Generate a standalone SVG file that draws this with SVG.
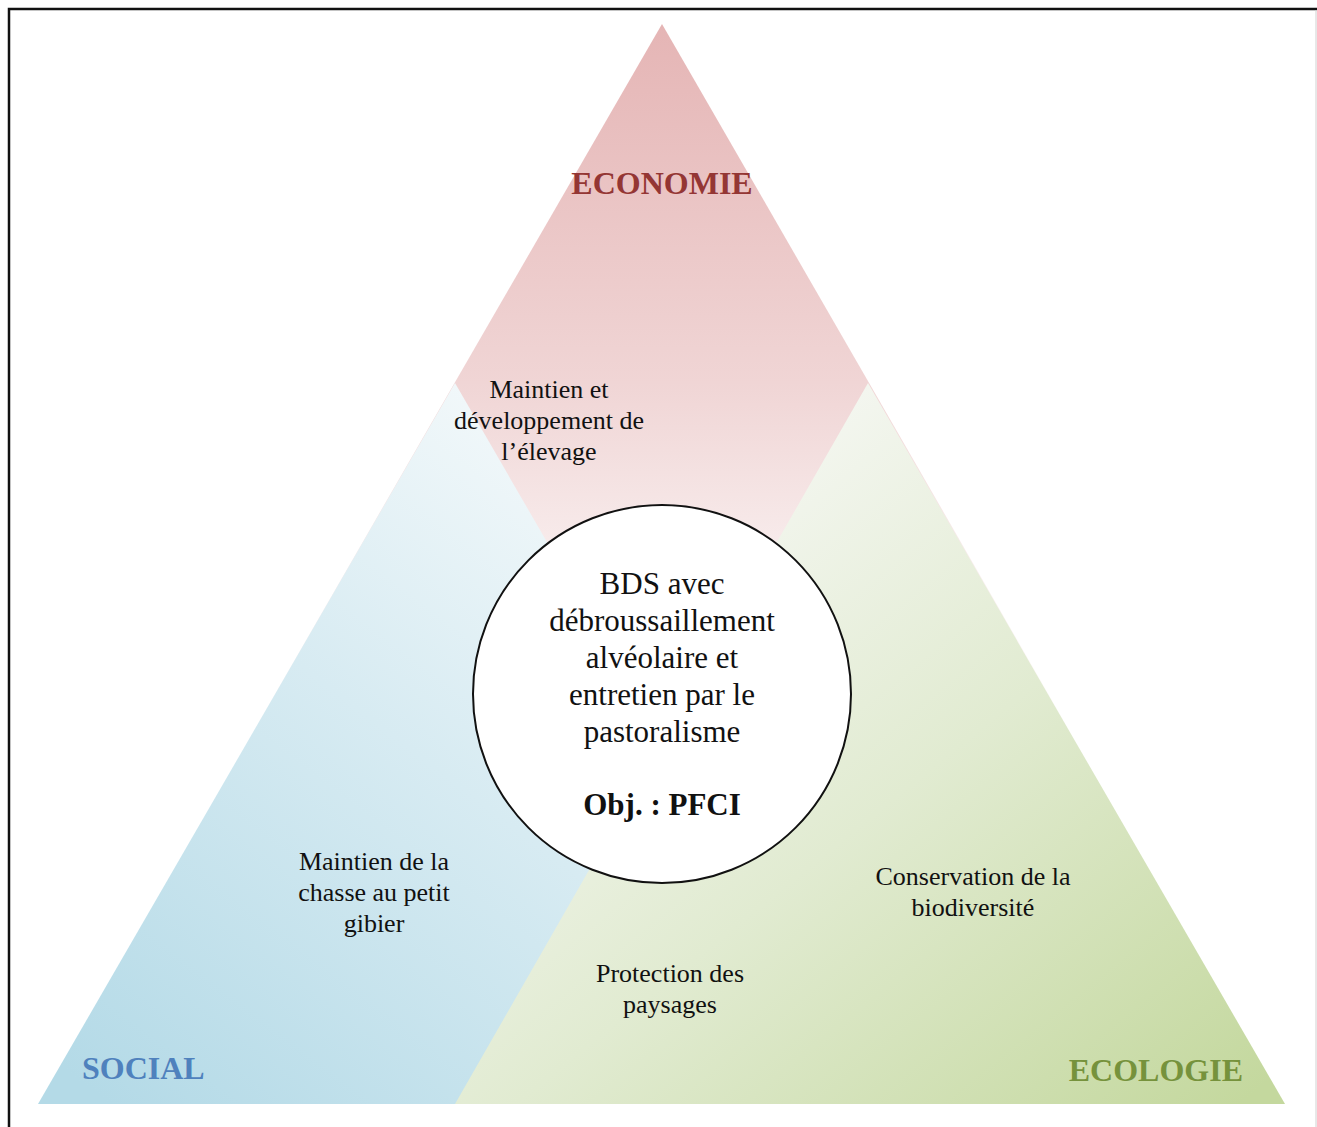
<svg xmlns="http://www.w3.org/2000/svg" width="1317" height="1127" viewBox="0 0 1317 1127">
  <defs>
    <linearGradient id="gRed" gradientUnits="userSpaceOnUse" x1="0" y1="24" x2="0" y2="741">
      <stop offset="0" stop-color="#e5b5b5"/>
      <stop offset="0.5" stop-color="#f0d5d5"/>
      <stop offset="0.75" stop-color="#f8eded"/>
      <stop offset="1" stop-color="#ffffff"/>
    </linearGradient>
    <linearGradient id="gBlue" gradientUnits="userSpaceOnUse" x1="620" y1="430" x2="110" y2="1104">
      <stop offset="0" stop-color="#f6fafb"/>
      <stop offset="0.45" stop-color="#d7ebf2"/>
      <stop offset="1" stop-color="#b4dae7"/>
    </linearGradient>
    <linearGradient id="gGreen" gradientUnits="userSpaceOnUse" x1="720" y1="460" x2="1240" y2="1104">
      <stop offset="0" stop-color="#f5f7f2"/>
      <stop offset="0.45" stop-color="#e1ebd1"/>
      <stop offset="1" stop-color="#c4d89e"/>
    </linearGradient>
    <style>
      .lbl { font-family: "Liberation Serif", "Times New Roman", serif; font-size: 26px; fill: #111111; text-anchor: middle; }
      .ctr { font-family: "Liberation Serif", "Times New Roman", serif; font-size: 31px; fill: #111111; text-anchor: middle; }
      .head { font-family: "Liberation Serif", "Times New Roman", serif; font-size: 32px; font-weight: bold; }
    </style>
  </defs>
  <rect x="0" y="0" width="1317" height="1127" fill="#ffffff"/>
  <path d="M9,1127 V9 H1317" fill="none" stroke="#111111" stroke-width="2.5"/>
  <line x1="1316" y1="10" x2="1316" y2="1127" stroke="#d0d0d0" stroke-width="1"/>

  <g id="economie">
    <polygon points="662,24 38,1104 1285,1104" fill="url(#gRed)"/>
  </g>
  <g id="social">
    <polygon points="455,383 38,1104 872,1104" fill="url(#gBlue)"/>
  </g>
  <g id="ecologie">
    <polygon points="868,383 455,1104 1285,1104" fill="url(#gGreen)"/>
  </g>

  <g id="labels-economie">
    <text class="head" x="662" y="194" text-anchor="middle" fill="#943634">ECONOMIE</text>
    <text class="lbl" x="549" y="398">Maintien et</text>
    <text class="lbl" x="549" y="429">développement de</text>
    <text class="lbl" x="549" y="460">l’élevage</text>
  </g>
  <g id="labels-social">
    <text class="head" x="82" y="1079" fill="#4f81bd">SOCIAL</text>
    <text class="lbl" x="374" y="870">Maintien de la</text>
    <text class="lbl" x="374" y="901">chasse au petit</text>
    <text class="lbl" x="374" y="932">gibier</text>
  </g>
  <g id="labels-ecologie">
    <text class="head" x="1243" y="1081" text-anchor="end" fill="#76923c">ECOLOGIE</text>
    <text class="lbl" x="973" y="885">Conservation de la</text>
    <text class="lbl" x="973" y="916">biodiversité</text>
    <text class="lbl" x="670" y="982">Protection des</text>
    <text class="lbl" x="670" y="1013">paysages</text>
  </g>

  <g id="center">
    <circle cx="662" cy="694" r="189" fill="#ffffff" stroke="#111111" stroke-width="2"/>
    <text class="ctr" x="662" y="594">BDS avec</text>
    <text class="ctr" x="662" y="631">débroussaillement</text>
    <text class="ctr" x="662" y="668">alvéolaire et</text>
    <text class="ctr" x="662" y="705">entretien par le</text>
    <text class="ctr" x="662" y="742">pastoralisme</text>
    <text class="ctr" x="662" y="815" font-weight="bold">Obj. : PFCI</text>
  </g>
  <g id="connectors"/>
</svg>
